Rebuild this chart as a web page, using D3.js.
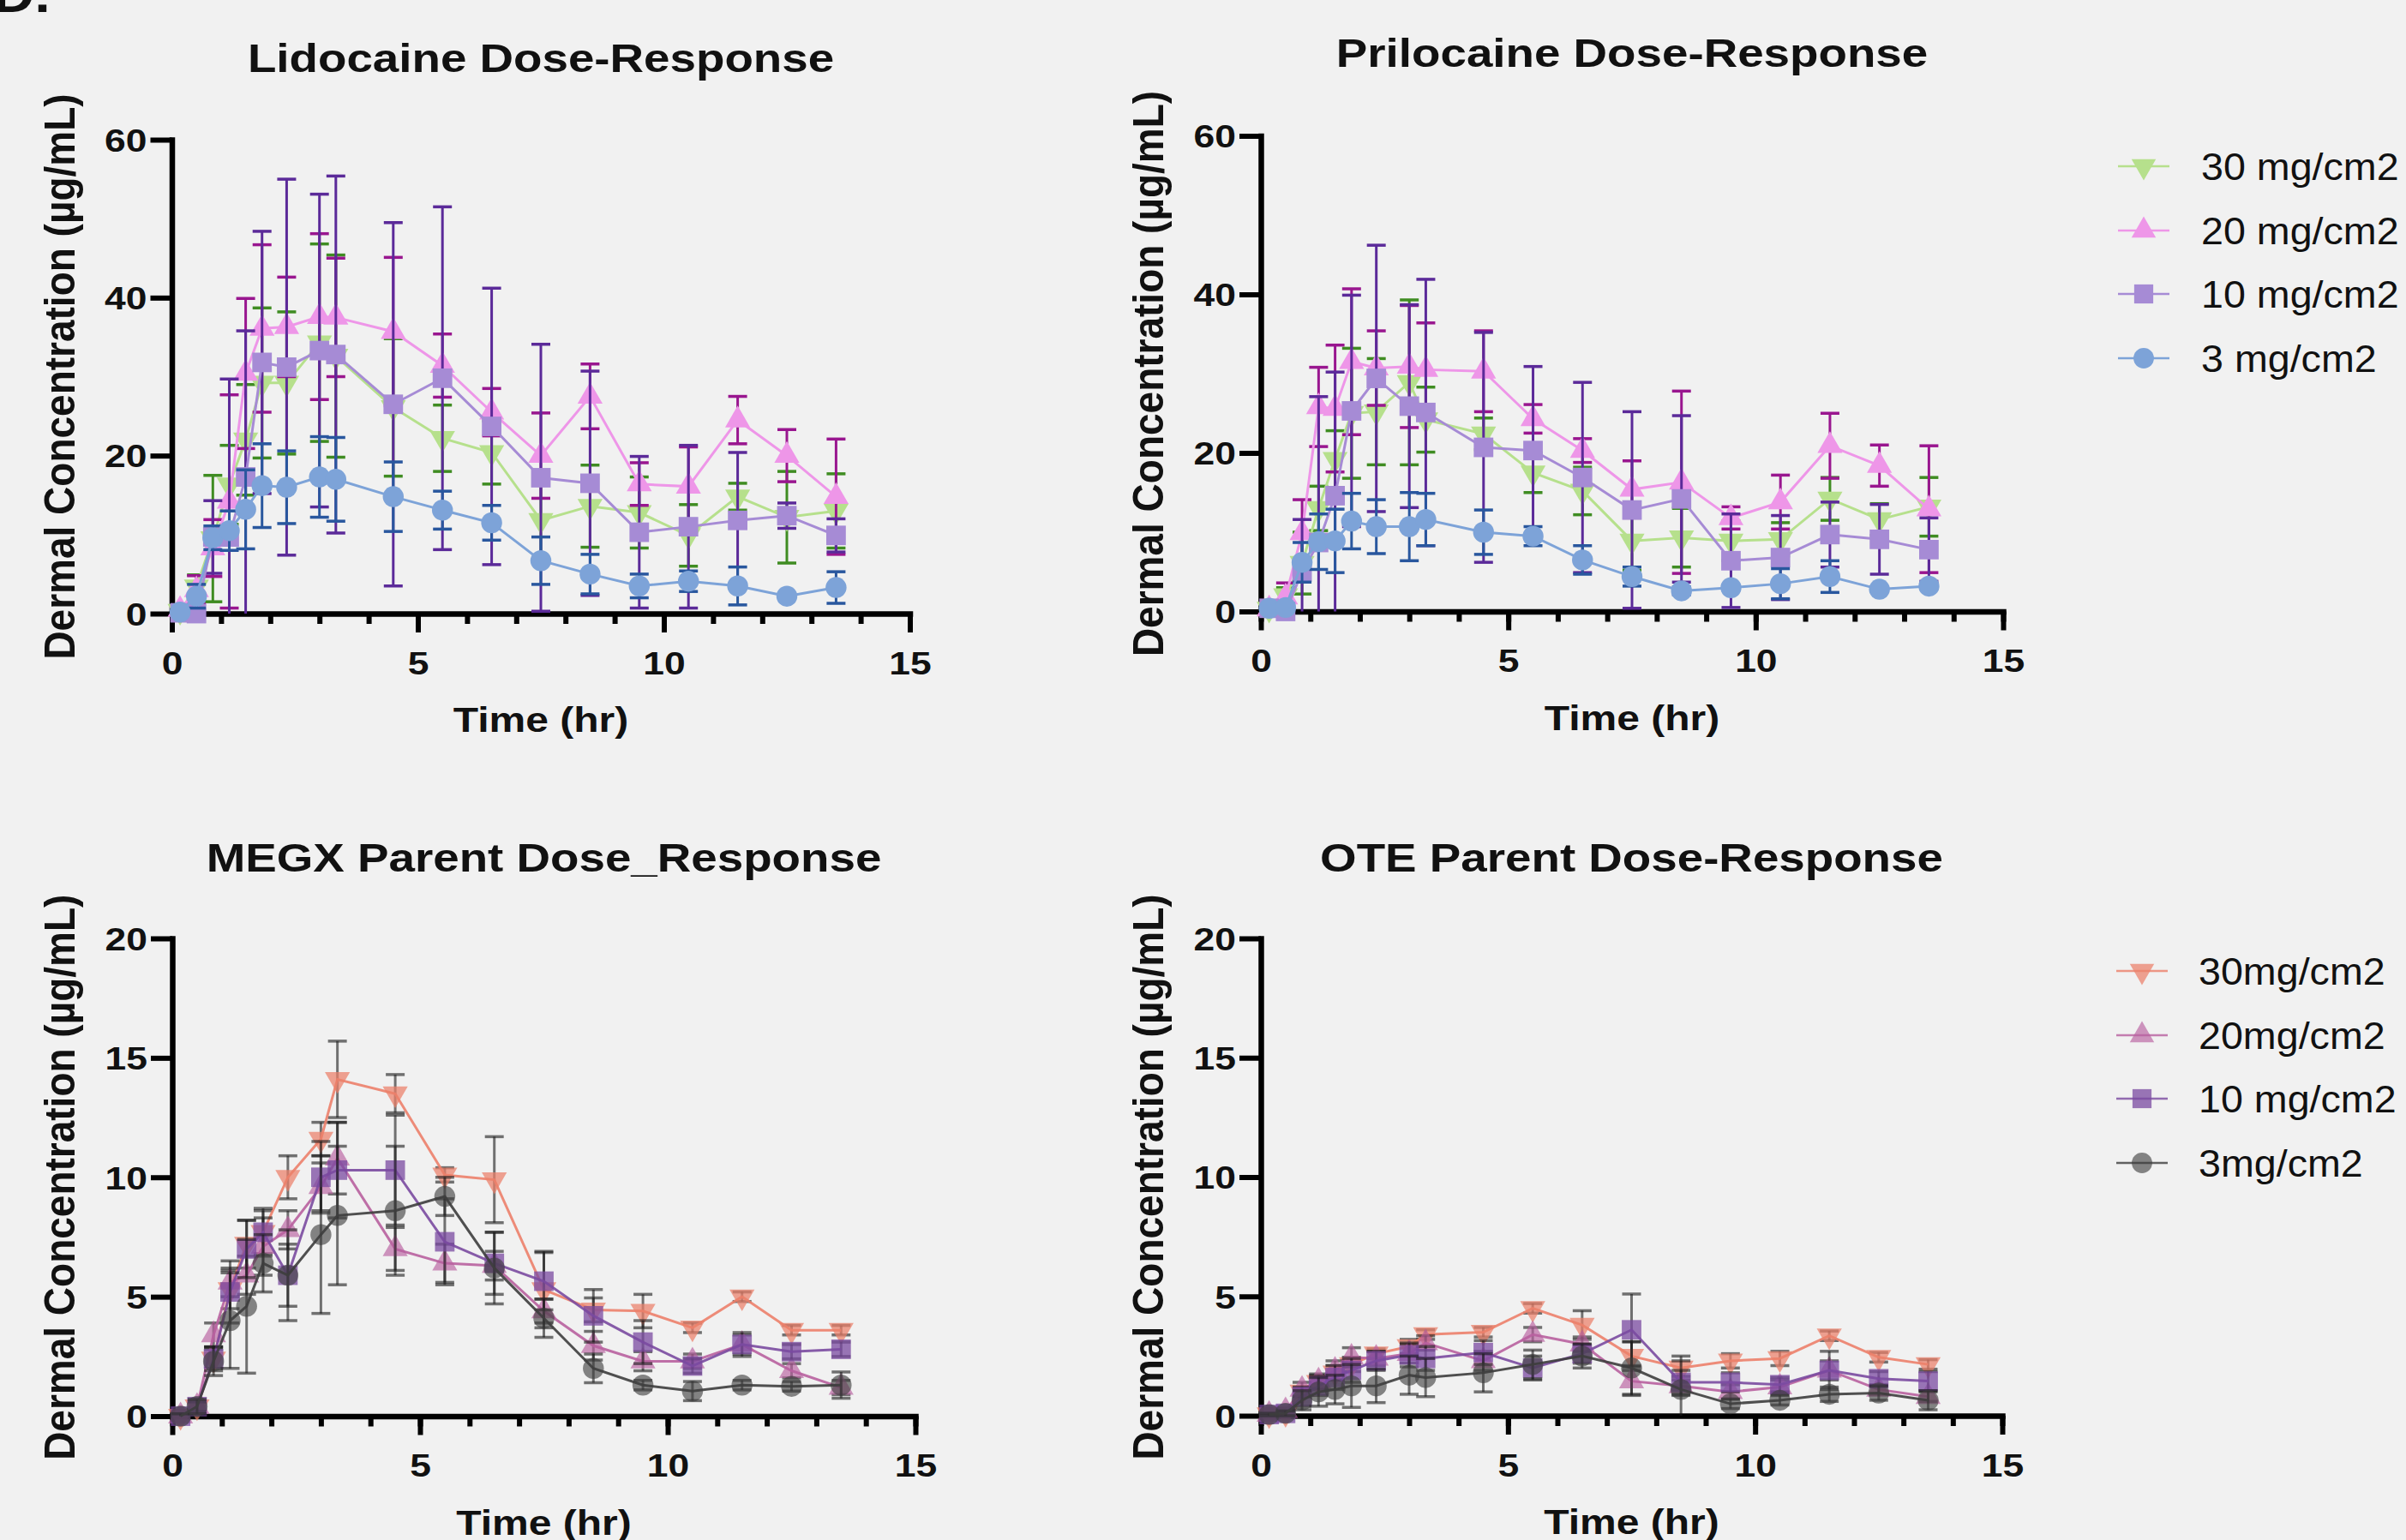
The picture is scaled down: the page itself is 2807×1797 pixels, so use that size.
<!DOCTYPE html>
<html>
<head>
<meta charset="utf-8">
<script src="https://cdn.jsdelivr.net/npm/d3@7"></script>
<style>
    html, body { margin: 0; padding: 0; background: #f1f1f1; overflow: hidden; }
    svg { display: block; }
</style>
</head>
<body>
<div id="chart"></div>
<script>
let width = 2807;
let height = 1797;
let fontFamily = "'Liberation Sans', Arial, sans-serif";

// sampling times (hr), same for every panel
let times = [0.167, 0.5, 0.833, 1.167, 1.5, 1.833, 2.333, 3, 3.333, 4.5, 5.5, 6.5, 7.5, 8.5, 9.5, 10.5, 11.5, 12.5, 13.5];
let xTicks = [0, 5, 10, 15];

let topLegend = ["30 mg/cm2", "20 mg/cm2", "10 mg/cm2", "3 mg/cm2"];
let bottomLegend = ["30mg/cm2", "20mg/cm2", "10 mg/cm2", "3mg/cm2"];

// Lidocaine
let lido30 = [0.3, 3.4, 9.5, 16.3, 22, 29.2, 29.2, 34.3, 32.6, 26.1, 22.2, 20.4, 11.8, 13.6, 12.8, 9.9, 14.8, 12.2, 13];
let lido30Err = [0.3, 1.5, 8, 5, 7, 9.5, 9, 12.5, 12.8, 8.7, 4.2, 4, 5, 5.2, 4.5, 3.9, 1.7, 5.8, 4.7];
let lido20 = [0.5, 3, 8.3, 14.2, 30.4, 36.1, 36.3, 37.6, 37.5, 35.7, 31.4, 25.5, 20, 27.5, 16.4, 16.1, 24.5, 20, 14.8];
let lido20Err = [0.3, 1.8, 3.6, 13.5, 9.5, 10.6, 6.3, 10.5, 7.5, 9.4, 4, 3, 5.4, 4.1, 2.7, 5, 3, 3.3, 7.3];
let lido10 = [0.1, 0, 9.7, 9.7, 17.3, 31.8, 31.2, 33.3, 32.8, 26.5, 29.8, 23.7, 17.2, 16.5, 10.3, 11, 11.8, 12.4, 9.9];
let lido10Err = [0.3, 0.5, 4.6, 20, 18.5, 16.6, 23.8, 19.8, 22.6, 23, 21.7, 17.5, 16.9, 14.2, 9.6, 10.3, 8.6, 1.6, 2.1];
let lido3 = [0.2, 2.2, 9.6, 10.5, 13.2, 16.2, 16, 17.3, 17, 14.8, 13.1, 11.5, 6.7, 5, 3.5, 4.1, 3.5, 2.2, 3.3];
let lido3Err = [0.3, 1.5, 1.5, 2.5, 5, 5.3, 4.6, 5.1, 5.3, 4.4, 2.4, 2.2, 3, 2.5, 1.5, 1.3, 2.4, 0.3, 2];

// Prilocaine
let pril30 = [0.3, 2, 6.1, 13, 19.2, 25, 25.2, 28.9, 24.2, 22.4, 17.5, 15.2, 8.9, 9.3, 8.9, 9.1, 14.2, 11.6, 13.2];
let pril30Err = [0.3, 1, 3.9, 2.8, 3.6, 8.2, 6.7, 10.4, 4.1, 2, 2.5, 3, 3.7, 3.7, 2.5, 2.1, 2.7, 2, 3.7];
let pril20 = [0.3, 1.8, 9.9, 25.8, 25.6, 31.5, 30.7, 30.9, 30.5, 30.3, 24.3, 20.3, 15.4, 16.3, 11.8, 13.8, 20.9, 18.4, 12.9];
let pril20Err = [0.3, 1.8, 4.2, 5, 8, 9.2, 4.7, 7.7, 5.9, 5.1, 1.8, 1.5, 3.6, 11.5, 1.4, 3.4, 4.1, 2.6, 8];
let pril10 = [0.4, 0, 5, 8.7, 14.6, 25.3, 29.4, 25.9, 25.1, 20.7, 20.3, 16.9, 12.8, 14.2, 6.4, 6.8, 9.7, 9.1, 7.8];
let pril10Err = [0.3, 0.5, 6.6, 18.4, 15.6, 14.6, 16.8, 12.8, 16.8, 14.5, 10.6, 12, 12.4, 10.5, 5.9, 5.3, 4.1, 4.4, 4];
let pril3 = [0.4, 0.5, 6.2, 8.8, 8.9, 11.4, 10.7, 10.7, 11.6, 10, 9.5, 6.5, 4.4, 2.6, 3, 3.5, 4.4, 2.8, 3.2];
let pril3Err = [0.3, 0.3, 2.5, 3.5, 4, 3.5, 3.4, 4.3, 3.3, 2.8, 1.2, 1.8, 1.2, 0.5, 0.3, 1.9, 2, 0.3, 0.3];

// MEGX
let megx30 = [0, 0.4, 2.4, 5.3, 7.2, 7.7, 10, 11.6, 14.1, 13.5, 10.1, 9.9, 5.3, 4.45, 4.4, 3.7, 5, 3.6, 3.6];
let megx30Err = [0.1, 0.2, 0.4, 0.8, 1, 0.9, 0.9, 0.7, 1.6, 0.8, 0.3, 1.8, 1.6, 0.5, 0.7, 0.2, 0.2, 0.2, 0.2];
let megx20 = [0, 0.4, 3.4, 5.6, 5.9, 7.1, 7.8, 9.6, 10.8, 7, 6.4, 6.3, 4.4, 2.95, 2.3, 2.3, 3, 1.9, 1.2];
let megx20Err = [0.1, 0.2, 0.5, 0.6, 0.8, 1.2, 0.8, 1, 1.5, 0.9, 0.8, 0.6, 0.5, 0.6, 0.4, 0.3, 0.4, 0.3, 0.3];
let megx10 = [0, 0.4, 2.4, 5.2, 7, 7.7, 5.9, 10, 10.3, 10.3, 7.3, 6.4, 5.65, 4.2, 3.1, 2.1, 3, 2.7, 2.8];
let megx10Err = [0.1, 0.2, 0.5, 1.3, 1.2, 1, 1.3, 1.5, 2, 2.3, 1.8, 1.3, 1.2, 1.1, 0.9, 0.3, 0.5, 0.3, 0.3];
let megx3 = [0, 0.4, 2.3, 4, 4.6, 6.4, 5.9, 7.6, 8.4, 8.6, 9.2, 6.2, 4.1, 2, 1.3, 1.05, 1.3, 1.25, 1.3];
let megx3Err = [0.1, 0.3, 0.6, 2, 2.8, 1.2, 1.9, 3.3, 2.9, 2.7, 0.8, 1.5, 0.8, 0.6, 0.2, 0.4, 0.2, 0.2, 0.55];

// OTE
let ote30 = [0.05, 0.1, 1, 1.4, 1.8, 2.15, 2.6, 2.9, 3.4, 3.5, 4.5, 3.8, 2.5, 2, 2.3, 2.4, 3.35, 2.45, 2.15];
let ote30Err = [0.05, 0.1, 0.2, 0.3, 0.3, 0.3, 0.2, 0.3, 0.2, 0.2, 0.2, 0.6, 0.6, 0.5, 0.3, 0.3, 0.2, 0.2, 0.2];
let ote20 = [0.05, 0.2, 1.1, 1.45, 1.9, 2.45, 2.4, 2.6, 3.05, 2.3, 3.4, 3, 1.45, 1.25, 1, 1.2, 1.9, 1.1, 0.8];
let ote20Err = [0.05, 0.1, 0.3, 0.3, 0.4, 0.4, 0.3, 0.4, 0.3, 0.4, 0.3, 0.3, 0.6, 0.4, 0.3, 0.3, 0.4, 0.2, 0.2];
let ote10 = [0.05, 0.1, 0.8, 1.25, 1.6, 1.9, 2.3, 2.55, 2.4, 2.65, 2, 2.6, 3.6, 1.4, 1.4, 1.3, 1.9, 1.55, 1.45];
let ote10Err = [0.05, 0.1, 0.4, 0.4, 0.5, 0.5, 0.4, 0.5, 0.5, 0.5, 0.5, 0.4, 1.5, 0.5, 0.4, 0.3, 0.8, 0.3, 0.4];
let ote3 = [0.05, 0.1, 0.65, 1, 1.1, 1.25, 1.25, 1.7, 1.6, 1.8, 2.15, 2.5, 2, 1.1, 0.5, 0.65, 0.9, 0.95, 0.65];
let ote3Err = [0.05, 0.1, 0.4, 0.6, 0.6, 0.9, 0.7, 0.8, 0.8, 0.8, 0.6, 0.5, 1.1, 1.2, 0.2, 0.2, 0.3, 0.3, 0.4];

let topStyles = [
    { shape: "down", fill: "#b6e08c", err: "#3f8c22", alpha: 1 },
    { shape: "up", fill: "#ee96e8", err: "#99168f", alpha: 1 },
    { shape: "square", fill: "#a68bd5", err: "#5b2a99", alpha: 1 },
    { shape: "circle", fill: "#7da3d8", err: "#29579e", alpha: 1 }
];
let bottomStyles = [
    { shape: "down", fill: "#ec7f6a", err: "#1a1a1a", alpha: 0.72 },
    { shape: "up", fill: "#b8609f", err: "#1a1a1a", alpha: 0.65 },
    { shape: "square", fill: "#7a4aa0", err: "#1a1a1a", alpha: 0.75 },
    { shape: "circle", fill: "#3d3d3d", err: "#1a1a1a", alpha: 0.62 }
];

let panels = [
    { title: "Lidocaine Dose-Response", titleY: 84, left: 200.5, right: 1061.5, top: 163, bottom: 716, yMax: 60, yTicks: [0, 20, 40, 60],
        data: [[lido30, lido30Err], [lido20, lido20Err], [lido10, lido10Err], [lido3, lido3Err]], styles: topStyles },
    { title: "Prilocaine Dose-Response", titleY: 78, left: 1471, right: 2337, top: 158.5, bottom: 713.5, yMax: 60, yTicks: [0, 20, 40, 60],
        data: [[pril30, pril30Err], [pril20, pril20Err], [pril10, pril10Err], [pril3, pril3Err]], styles: topStyles },
    { title: "MEGX Parent Dose_Response", titleY: 1017, left: 201, right: 1068, top: 1095, bottom: 1652.5, yMax: 20, yTicks: [0, 5, 10, 15, 20],
        data: [[megx30, megx30Err], [megx20, megx20Err], [megx10, megx10Err], [megx3, megx3Err]], styles: bottomStyles },
    { title: "OTE Parent Dose-Response", titleY: 1017, left: 1471, right: 2336, top: 1095, bottom: 1652, yMax: 20, yTicks: [0, 5, 10, 15, 20],
        data: [[ote30, ote30Err], [ote20, ote20Err], [ote10, ote10Err], [ote3, ote3Err]], styles: bottomStyles }
];

let legends = [
    { x: 2501, textX: 2568, rows: [194, 269, 343, 418], labels: topLegend, styles: topStyles },
    { x: 2499, textX: 2565, rows: [1133, 1208, 1282, 1357], labels: bottomLegend, styles: bottomStyles }
];

let svg = d3.select("#chart")
    .append("svg")
    .attr("width", width)
    .attr("height", height);

svg.append("rect")
    .attr("width", width)
    .attr("height", height)
    .attr("fill", "#f1f1f1");

let symbolTypes = { down: d3.symbolTriangle, up: d3.symbolTriangle, square: d3.symbolSquare, circle: d3.symbolCircle };
let symbolSizes = { down: 370, up: 370, square: 520, circle: 470 };

function symbolPath(shape, scale) {
    return d3.symbol().type(symbolTypes[shape]).size(symbolSizes[shape] * (scale || 1))();
}

// text is drawn a bit wider than tall, like the original figure
function addText(parent, x, y, str, size, weight, anchor, sx, rotated) {
    let t = parent.append("g")
        .attr("transform", "translate(" + x + "," + y + ") scale(" + sx + ",1)")
        .append("text")
        .attr("font-family", fontFamily)
        .attr("font-size", size)
        .attr("font-weight", weight)
        .attr("text-anchor", anchor)
        .attr("fill", "#111")
        .text(str);
    if (rotated) {
        t.attr("transform", "rotate(-90)");
    }
    return t;
}

// panel letter, mostly cut off at the top edge
addText(svg, -8, 14, "D.", 58, "bold", "start", 1.15, false);

panels.forEach(function (p) {
    let x = d3.scaleLinear().domain([0, 15]).range([p.left, p.right]);
    let y = d3.scaleLinear().domain([0, p.yMax]).range([p.bottom, p.top]);
    let g = svg.append("g");

    addText(g, (p.left + p.right) / 2, p.titleY, p.title, 46, "bold", "middle", 1.19, false);
    addText(g, p.left - 114, (p.top + p.bottom) / 2, "Dermal Concentration (µg/mL)", 46, "bold", "middle", 1.1, true);
    addText(g, (p.left + p.right) / 2, p.bottom + 138, "Time (hr)", 40, "bold", "middle", 1.2, false);

    // minor x ticks every hour
    g.append("g")
        .attr("transform", "translate(0," + p.bottom + ")")
        .call(d3.axisBottom(x).tickValues(d3.range(0, 16)).tickSize(12).tickFormat(""))
        .call(function (a) { a.select(".domain").remove(); })
        .selectAll("line")
        .attr("stroke", "#000")
        .attr("stroke-width", 6);

    let xAxis = g.append("g")
        .attr("transform", "translate(0," + p.bottom + ")")
        .call(d3.axisBottom(x).tickValues(xTicks).tickSize(22).tickSizeOuter(0).tickFormat(d3.format("d")));
    xAxis.select(".domain").attr("stroke", "#000").attr("stroke-width", 6.5).attr("stroke-linecap", "square");
    xAxis.selectAll(".tick line").attr("stroke", "#000").attr("stroke-width", 6);
    xAxis.selectAll(".tick text")
        .attr("y", 71)
        .attr("dy", 0)
        .attr("transform", "scale(1.2,1)")
        .attr("font-family", fontFamily)
        .attr("font-size", 37)
        .attr("font-weight", "bold")
        .attr("fill", "#111");

    let yAxis = g.append("g")
        .attr("transform", "translate(" + p.left + ",0)")
        .call(d3.axisLeft(y).tickValues(p.yTicks).tickSize(25).tickSizeOuter(0).tickFormat(d3.format("d")));
    yAxis.select(".domain").attr("stroke", "#000").attr("stroke-width", 6.5).attr("stroke-linecap", "square");
    yAxis.selectAll(".tick line").attr("stroke", "#000").attr("stroke-width", 6);
    yAxis.selectAll(".tick text")
        .attr("x", -29 / 1.2)
        .attr("dy", "0.36em")
        .attr("transform", "scale(1.2,1)")
        .attr("font-family", fontFamily)
        .attr("font-size", 37)
        .attr("font-weight", "bold")
        .attr("fill", "#111");

    let line = d3.line()
        .x(function (d, i) { return x(times[i]); })
        .y(function (d) { return y(d); });

    p.data.forEach(function (pair, s) {
        let means = pair[0];
        let errs = pair[1];
        let st = p.styles[s];
        let sg = g.append("g");
        let pts = means.map(function (m, i) {
            return { t: times[i], m: m, lo: Math.max(0, m - errs[i]), hi: m + errs[i], clipped: m - errs[i] < 0 };
        });

        let bars = sg.append("g")
            .attr("stroke", st.err)
            .attr("stroke-opacity", st.alpha < 1 ? 0.6 : 1);
        bars.selectAll(".bar")
            .data(pts)
            .enter()
            .append("line")
            .attr("x1", function (d) { return x(d.t); })
            .attr("x2", function (d) { return x(d.t); })
            .attr("y1", function (d) { return y(d.lo); })
            .attr("y2", function (d) { return y(d.hi); })
            .attr("stroke-width", 3);
        bars.selectAll(".capHi")
            .data(pts)
            .enter()
            .append("line")
            .attr("x1", function (d) { return x(d.t) - 11; })
            .attr("x2", function (d) { return x(d.t) + 11; })
            .attr("y1", function (d) { return y(d.hi); })
            .attr("y2", function (d) { return y(d.hi); })
            .attr("stroke-width", 3.5);
        bars.selectAll(".capLo")
            .data(pts.filter(function (d) { return !d.clipped; }))
            .enter()
            .append("line")
            .attr("x1", function (d) { return x(d.t) - 11; })
            .attr("x2", function (d) { return x(d.t) + 11; })
            .attr("y1", function (d) { return y(d.lo); })
            .attr("y2", function (d) { return y(d.lo); })
            .attr("stroke-width", 3.5);

        sg.append("path")
            .datum(means)
            .attr("d", line)
            .attr("fill", "none")
            .attr("stroke", st.fill)
            .attr("stroke-opacity", st.alpha < 1 ? 0.9 : 1)
            .attr("stroke-width", 3);

        sg.selectAll(".pt")
            .data(pts)
            .enter()
            .append("path")
            .attr("d", symbolPath(st.shape))
            .attr("transform", function (d) {
                return "translate(" + x(d.t) + "," + y(d.m) + ")" + (st.shape == "down" ? " rotate(180)" : "");
            })
            .attr("fill", st.fill)
            .attr("fill-opacity", st.alpha);
    });
});

legends.forEach(function (lg) {
    let g = svg.append("g");
    lg.labels.forEach(function (name, i) {
        let st = lg.styles[i];
        let ry = lg.rows[i];
        g.append("line")
            .attr("x1", lg.x - 30)
            .attr("x2", lg.x + 30)
            .attr("y1", ry)
            .attr("y2", ry)
            .attr("stroke", st.fill)
            .attr("stroke-opacity", st.alpha < 1 ? 0.8 : 1)
            .attr("stroke-width", 2.5);
        g.append("path")
            .attr("d", symbolPath(st.shape, 0.95))
            .attr("transform", "translate(" + lg.x + "," + ry + ")" + (st.shape == "down" ? " rotate(180)" : ""))
            .attr("fill", st.fill)
            .attr("fill-opacity", st.alpha);
        addText(g, lg.textX, ry, name, 44, "normal", "start", 1.06, false)
            .attr("dy", "0.36em");
    });
});
</script>
</body>
</html>
